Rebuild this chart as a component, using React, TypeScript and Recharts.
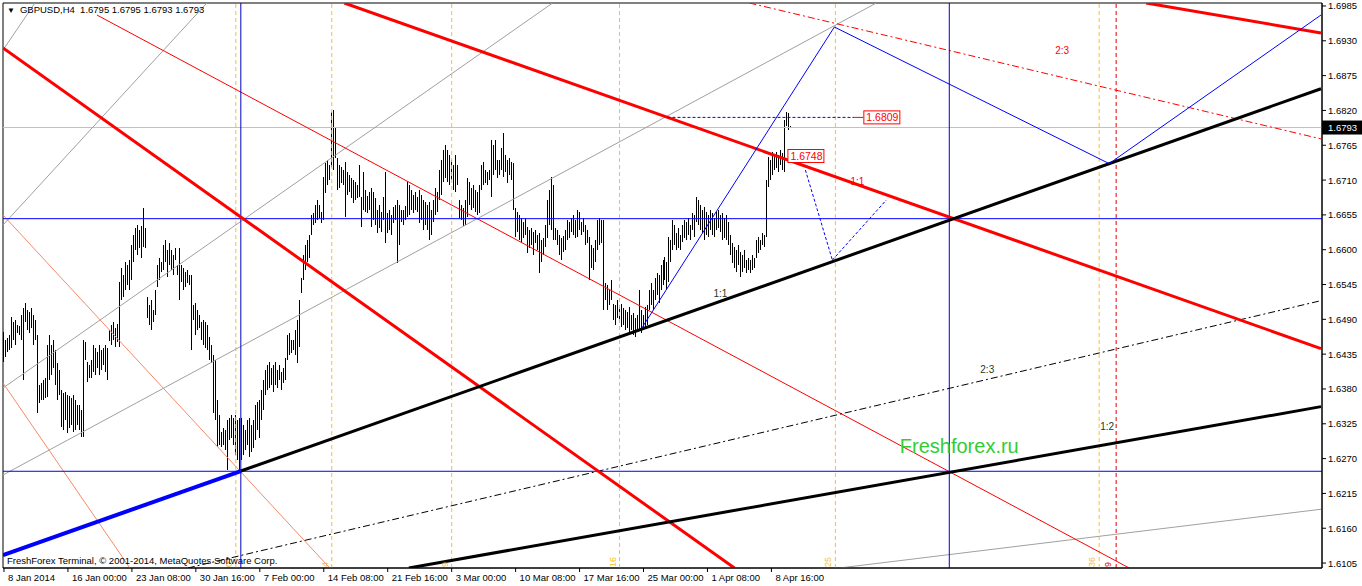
import {
  Bar,
  ComposedChart,
  ReferenceArea,
  ReferenceDot,
  ReferenceLine,
  XAxis,
  YAxis,
} from 'recharts';

// GBPUSD H4, values in pips above 1.6000 (e.g. 649 = 1.6649)
const barHigh = [
  470, 457, 460, 465, 494, 486, 489, 481, 479, 497,
  508, 516, 505, 502, 508, 497, 489, 465, 386, 389,
  394, 397, 449, 465, 449, 457, 441, 421, 410, 378,
  373, 375, 370, 369, 366, 370, 362, 355, 355, 347,
  457, 454, 422, 418, 426, 449, 444, 438, 449, 441,
  444, 449, 444, 473, 481, 486, 476, 482, 549, 571,
  560, 581, 576, 584, 607, 623, 634, 639, 631, 637,
  666, 634, 525, 513, 520, 505, 536, 576, 587, 581,
  607, 615, 599, 610, 599, 592, 602, 576, 602, 576,
  571, 565, 568, 560, 560, 513, 516, 505, 497, 486,
  489, 486, 481, 462, 449, 434, 426, 362, 339, 312,
  318, 315, 331, 334, 339, 334, 339, 331, 334, 334,
  323, 315, 331, 334, 323, 331, 355, 359, 362, 378,
  394, 410, 418, 422, 413, 418, 422, 410, 418, 407,
  413, 429, 465, 468, 457, 457, 473, 489, 520, 555,
  592, 607, 615, 623, 655, 658, 671, 678, 671, 660,
  715, 737, 742, 734, 818, 821, 792, 745, 734, 731,
  726, 739, 723, 718, 713, 710, 707, 702, 734, 683,
  723, 694, 685, 691, 697, 691, 682, 663, 671, 660,
  683, 723, 658, 663, 655, 667, 671, 678, 671, 663,
  663, 669, 707, 702, 694, 686, 691, 683, 694, 686,
  678, 675, 671, 675, 663, 678, 697, 691, 726, 742,
  757, 765, 757, 750, 742, 734, 750, 734, 678, 671,
  666, 678, 713, 707, 697, 702, 694, 691, 702, 734,
  739, 726, 723, 726, 773, 765, 773, 742, 742, 761,
  784, 750, 742, 745, 739, 737, 666, 660, 655, 650,
  644, 650, 636, 631, 634, 628, 631, 623, 626, 615,
  618, 639, 678, 694, 715, 702, 634, 631, 623, 618,
  621, 631, 647, 644, 650, 655, 647, 663, 660, 644,
  650, 639, 631, 620, 607, 602, 615, 647, 650, 647,
  647, 547, 544, 536, 552, 515, 513, 520, 513, 515,
  508, 505, 502, 510, 497, 500, 492, 497, 536, 505,
  497, 510, 513, 536, 547, 536, 555, 563, 560, 576,
  584, 589, 581, 620, 615, 647, 639, 626, 634, 623,
  639, 647, 644, 650, 639, 658, 655, 683, 678, 671,
  663, 667, 660, 655, 663, 658, 650, 660, 663, 655,
  658, 650, 655, 644, 623, 610, 604, 599, 607, 596,
  592, 599, 584, 587, 584, 592, 587, 615, 620, 615,
  626, 623, 710, 746, 742, 754, 750, 754, 750, 757,
  752, 805, 818, 816, 795,
];

const barLow = [
  423, 430, 438, 441, 445, 457, 449, 468, 465, 457,
  394, 486, 473, 468, 476, 449, 457, 342, 358, 362,
  362, 366, 367, 394, 402, 413, 386, 362, 370, 320,
  315, 331, 310, 318, 323, 312, 315, 323, 315, 304,
  304, 426, 391, 397, 397, 407, 402, 413, 402, 410,
  418, 407, 394, 456, 449, 457, 446, 454, 446, 520,
  525, 536, 544, 536, 552, 581, 599, 592, 603, 587,
  604, 603, 492, 481, 473, 486, 497, 541, 552, 565,
  568, 581, 557, 576, 568, 560, 584, 560, 520, 549,
  536, 541, 547, 544, 441, 489, 465, 473, 476, 457,
  449, 445, 441, 426, 421, 342, 331, 288, 291, 288,
  291, 284, 252, 299, 302, 291, 276, 268, 252, 268,
  276, 284, 291, 272, 280, 286, 299, 315, 302, 331,
  347, 370, 378, 381, 386, 375, 386, 381, 394, 378,
  389, 394, 426, 434, 437, 441, 434, 421, 446, 532,
  552, 568, 581, 587, 623, 639, 642, 647, 650, 642,
  647, 690, 702, 710, 731, 726, 745, 694, 697, 705,
  702, 652, 686, 691, 682, 674, 678, 682, 683, 636,
  663, 660, 658, 663, 636, 647, 639, 626, 634, 628,
  647, 611, 626, 631, 623, 642, 647, 579, 607, 644,
  639, 647, 652, 655, 663, 658, 663, 660, 642, 647,
  631, 639, 631, 615, 623, 644, 655, 660, 678, 686,
  707, 713, 707, 702, 710, 694, 691, 702, 650, 647,
  637, 639, 652, 671, 663, 666, 660, 655, 658, 694,
  702, 705, 702, 710, 683, 718, 726, 713, 718, 726,
  715, 723, 705, 718, 710, 663, 620, 628, 615, 610,
  618, 623, 595, 603, 607, 592, 610, 599, 563, 581,
  592, 604, 618, 639, 631, 615, 615, 607, 592, 584,
  597, 599, 615, 618, 628, 623, 618, 620, 631, 623,
  628, 607, 610, 552, 571, 568, 581, 599, 607, 610,
  505, 520, 505, 513, 520, 489, 481, 492, 486, 478,
  481, 473, 476, 468, 473, 465, 462, 473, 473, 468,
  473, 476, 481, 505, 513, 505, 520, 528, 516, 536,
  544, 552, 536, 549, 581, 599, 607, 599, 603, 599,
  612, 618, 615, 623, 615, 631, 620, 644, 639, 631,
  626, 615, 623, 620, 631, 623, 620, 631, 634, 628,
  615, 618, 615, 607, 592, 579, 571, 565, 576, 557,
  565, 571, 563, 568, 563, 568, 571, 587, 595, 599,
  607, 604, 620, 699, 710, 718, 726, 729, 723, 734,
  726, 723, 795, 789, 793,
];

// x axis: bar index of each time label
const timeTicks = [0, 32, 64, 96, 128, 160, 192, 224, 256, 288, 320, 352, 384];
const timeLabels = [
  '8 Jan 2014', '16 Jan 00:00', '23 Jan 08:00', '30 Jan 16:00', '7 Feb 00:00',
  '14 Feb 08:00', '21 Feb 16:00', '3 Mar 00:00', '10 Mar 08:00', '17 Mar 16:00',
  '25 Mar 00:00', '1 Apr 08:00', '8 Apr 16:00',
];
const priceTicks = [105, 160, 215, 270, 325, 380, 435, 490, 545, 600, 655, 710, 765, 820, 875, 930, 985];

const BAR_DOMAIN = [-0.5, 659.5];
const PIP_DOMAIN = [97.2, 989.7];

// Gann fan, black side  [bar, pips]
const blackFan11 = [[118.5, 250.4], [659, 854.3]];
const blackFan11Left = [[-0.5, 117.5], [118.5, 250.4]];
const blackFan23 = [[92, 97.2], [659, 519.5]];
const blackFan12 = [[202.6, 97.2], [659, 352.1]];
const blackFan13 = [[418, 97.2], [659, 190]];
const blackFan21 = [[-0.5, 381.5], [274.5, 989.7]];
const blackFan31 = [[-0.5, 639], [101.5, 989.7]];
const blackFan41 = [[-0.5, 915.4], [15.5, 989.7]];
const grayTrend = [[-0.5, 244.1], [436.5, 989.7]];

// Gann fan, red side
const redFan11 = [[170.3, 989.7], [659, 443.8]];
const redFan21 = [[-0.5, 918.6], [365.5, 97.2]];
const redFan12 = [[571.5, 989.7], [659, 942.3]];
const redFan23 = [[373, 989.7], [659, 775]];
const redFan31 = [[-0.5, 654.8], [163, 97.2]];
const redFan41 = [[-0.5, 389.4], [63, 97.2]];
const redTrend = [[46.5, 970.7], [563, 97.2]];

const upperLevel = 649;
const lowerLevel = 250;
const lastPrice = 793;
const pivotBars = [118.5, 473];

const zigzag = [[319.5, 478], [415.5, 951.8], [553, 736], [659, 970.7]];
const projection = [[401, 725.9], [414.5, 583.7], [441.5, 678.5]];
const targetLine = [[332, 809], [425.5, 809]];
const targetTick = [[425.5, 809], [430, 809]];

const fiboZones = [116, 164, 224, 308, 416, 548];
const fiboLabels = ['0', '4', '9', '16', '25', '36'];
const redZone = 556.5;
const redZoneLabel = '9';

const priceTags = [
  { at: [392, 748], text: '1.6748' },
  { at: [430, 809], text: '1.6809' },
];

const fanNotes = [
  { at: [427, 708.5], text: '1:1', color: '#ff0000' },
  { at: [529.5, 915.4], text: '2:3', color: '#ff0000' },
  { at: [358.5, 531.6], text: '1:1', color: '#1e3a1e' },
  { at: [492, 411.5], text: '2:3', color: '#1e3a1e' },
  { at: [552, 320], text: '1:2', color: '#1e3a1e' },
];
const watermark = { at: [478, 290], text: 'Freshforex.ru' };

const bars = barHigh.map((high, i) => ({ i, high, low: barLow[i] }));

const FONT = "'Liberation Sans', Arial, sans-serif";
const fmtPrice = (v: number) => (1.6 + v / 10000).toFixed(4);

function seg(key: string, pts: number[][], stroke: string, width = 1, dash?: string) {
  return (
    <ReferenceLine
      key={key}
      segment={[{ x: pts[0][0], y: pts[0][1] }, { x: pts[1][0], y: pts[1][1] }]}
      stroke={stroke}
      strokeWidth={width}
      strokeDasharray={dash}
      ifOverflow='hidden'
    />
  );
}

function note(key: string, at: number[], draw: (cx: number, cy: number) => React.ReactElement) {
  return (
    <ReferenceDot
      key={key}
      x={at[0]}
      y={at[1]}
      r={1}
      ifOverflow='visible'
      shape={(p: any) => draw(p.cx, p.cy)}
    />
  );
}

function HlBar(props: any) {
  const { x, y, width, height } = props;
  const top = Math.min(y, y + height);
  const h = Math.max(1, Math.abs(height));
  return <rect x={Math.round(x + width / 2 - 0.5)} y={top} width={1} height={h} fill='#000' shapeRendering='crispEdges' />;
}

function TimeTick(props: any) {
  const { x, y, payload } = props;
  const idx = timeTicks.indexOf(payload.value);
  return (
    <g>
      <line x1={x} y1={y} x2={x} y2={y + 4} stroke='#000' />
      <text x={x + 4} y={y + 13} fontSize={9.5} fontFamily={FONT} fill='#000'>
        {timeLabels[idx]}
      </text>
    </g>
  );
}

function PriceTick(props: any) {
  const { x, y, payload } = props;
  return (
    <g>
      <line x1={x} y1={y} x2={x + 4} y2={y} stroke='#000' />
      <text x={x + 6} y={y + 3.5} fontSize={9.5} fontFamily={FONT} fill='#000'>
        {fmtPrice(payload.value)}
      </text>
    </g>
  );
}

export default function App() {
  return (
    <div style={{ position: 'absolute', left: 0, top: 0, width: 1362, height: 586, background: '#fff', fontFamily: FONT }}>
      <ComposedChart width={1362} height={586} data={bars} margin={{ top: 3, right: 0, left: 3, bottom: 0 }}>
        <XAxis
          dataKey='i'
          type='number'
          domain={BAR_DOMAIN}
          allowDataOverflow
          ticks={timeTicks}
          interval={0}
          tick={<TimeTick />}
          tickLine={false}
          tickSize={0}
          tickMargin={0}
          height={18}
          axisLine={{ stroke: '#000' }}
        />
        <YAxis
          orientation='right'
          type='number'
          domain={PIP_DOMAIN}
          allowDataOverflow
          ticks={priceTicks}
          interval={0}
          tick={<PriceTick />}
          tickLine={false}
          tickSize={0}
          tickMargin={0}
          width={40}
          axisLine={{ stroke: '#000' }}
        />
        <ReferenceArea x1={BAR_DOMAIN[0]} x2={BAR_DOMAIN[1]} y1={PIP_DOMAIN[0]} y2={PIP_DOMAIN[1]} fill='none' stroke='#000' />

        {fiboZones.map((b) => (
          <ReferenceLine key={`fz${b}`} x={b} stroke='#f5c030' strokeDasharray='4 3' ifOverflow='hidden' />
        ))}
        <ReferenceLine x={redZone} stroke='#e00000' strokeDasharray='4 3' ifOverflow='hidden' />
        <ReferenceLine y={lastPrice} stroke='#c0c0c0' ifOverflow='hidden' />

        {seg('g1', blackFan41, '#a0a0a0')}
        {seg('g2', blackFan31, '#a0a0a0')}
        {seg('g3', blackFan21, '#a0a0a0')}
        {seg('g4', grayTrend, '#a0a0a0')}
        {seg('g5', blackFan13, '#a0a0a0')}
        {seg('s1', redFan31, '#f58a68')}
        {seg('s2', redFan41, '#f58a68')}
        {seg('rt', redTrend, '#ff0000')}
        {seg('r23', redFan23, '#ff0000', 1, '7 3 2 3')}
        {seg('b23', blackFan23, '#000', 1, '7 3 2 3')}

        <ReferenceLine y={upperLevel} stroke='#0000ff' ifOverflow='hidden' />
        <ReferenceLine y={lowerLevel} stroke='#0000ff' ifOverflow='hidden' />
        {pivotBars.map((b) => (
          <ReferenceLine key={`pv${b}`} x={b} stroke='#0000c8' ifOverflow='hidden' />
        ))}

        <Bar dataKey={(d: any) => [d.low, d.high]} barSize={1} shape={<HlBar />} isAnimationActive={false} />

        {seg('r11', redFan11, '#ff0000', 3)}
        {seg('r21', redFan21, '#ff0000', 3)}
        {seg('r12', redFan12, '#ff0000', 3)}
        {seg('b11', blackFan11, '#000', 3)}
        {seg('b11l', blackFan11Left, '#0000ff', 4)}
        {seg('b12', blackFan12, '#000', 3)}

        {zigzag.slice(1).map((p, k) => seg(`zz${k}`, [zigzag[k], p], '#0000ff'))}
        {projection.slice(1).map((p, k) => seg(`pj${k}`, [projection[k], p], '#0000ff', 1, '3 2'))}
        {seg('tl', targetLine, '#0000ff', 1, '3 2')}
        {seg('tt', targetTick, '#ff0000')}

        {fiboZones.map((b, k) =>
          note(`fzl${b}`, [b, PIP_DOMAIN[0]], (cx, cy) => (
            <text transform={`translate(${cx - 4},${cy - 1}) rotate(-90)`} fontSize={9} fontFamily={FONT} fill='#f5c030'>
              {fiboLabels[k]}
            </text>
          )),
        )}
        {note('rzl', [redZone, PIP_DOMAIN[0]], (cx, cy) => (
          <text transform={`translate(${cx - 5},${cy - 1}) rotate(-90)`} fontSize={9} fontFamily={FONT} fill='#e00000'>
            {redZoneLabel}
          </text>
        ))}

        {fanNotes.map((n, k) =>
          note(`fn${k}`, n.at, (cx, cy) => (
            <text x={cx} y={cy + 3.5} textAnchor='middle' fontSize={10} fontFamily={FONT} fill={n.color}>
              {n.text}
            </text>
          )),
        )}
        {note('wm', watermark.at, (cx, cy) => (
          <text x={cx} y={cy + 7} textAnchor='middle' fontSize={20} fontFamily={FONT} fill='#33cc33'>
            {watermark.text}
          </text>
        ))}
        {priceTags.map((t) =>
          note(`pt${t.text}`, t.at, (cx, cy) => (
            <g>
              <rect x={cx + 0.5} y={cy - 6.5} width={36} height={13} fill='#fff' stroke='#ff0000' />
              <text x={cx + 3} y={cy + 4} fontSize={10.5} fontFamily={FONT} fill='#ff0000'>
                {t.text}
              </text>
            </g>
          )),
        )}
        {note('last', [BAR_DOMAIN[1], lastPrice], (cx, cy) => (
          <g>
            <rect x={cx} y={cy - 7} width={40} height={14} fill='#000' />
            <text x={cx + 6} y={cy + 3.5} fontSize={9.5} fontFamily={FONT} fill='#fff'>
              {fmtPrice(lastPrice)}
            </text>
          </g>
        ))}
      </ComposedChart>
      <div style={{ position: 'absolute', left: 7, top: 3, fontSize: 9.5, color: '#000', whiteSpace: 'pre', lineHeight: '14px' }}>
        <span style={{ fontSize: 8, marginRight: 5 }}>▼</span>GBPUSD,H4  1.6795 1.6795 1.6793 1.6793
      </div>
      <div style={{ position: 'absolute', left: 7, top: 554, fontSize: 9.5, color: '#000', whiteSpace: 'pre', lineHeight: '14px' }}>
        FreshForex Terminal, © 2001-2014, MetaQuotes Software Corp.
      </div>
    </div>
  );
}
